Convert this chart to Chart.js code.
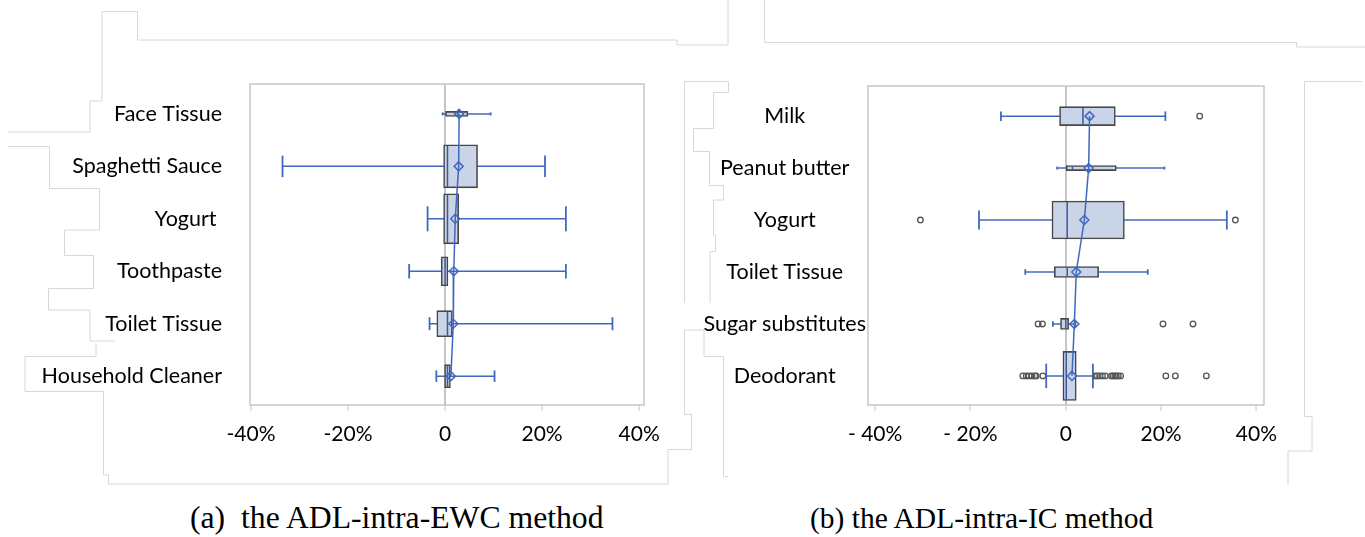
<!DOCTYPE html>
<html>
<head>
<meta charset="utf-8">
<script src="https://cdn.jsdelivr.net/npm/chart.js@4.4.1/dist/chart.umd.min.js"></script>
<style>
  html, body { margin: 0; padding: 0; background: #fff; }
  body { width: 1365px; height: 537px; position: relative; overflow: hidden; }
  svg.boxes { position: absolute; left: 0; top: 0; }
  canvas { position: absolute; top: 0; }
  #ewcChart { left: 0; }
  #icChart { left: 680px; }
  .caption { position: absolute; top: 500px; font-family: "Liberation Serif", "Times New Roman", serif;
             line-height: 36px; color: #000; white-space: pre; }
</style>
</head>
<body>
<!-- leftover text-box outlines from the original figure -->
<svg class="boxes" width="1365" height="537">
  <g fill="none" stroke="#d8d8d8" stroke-width="1">
    <polyline points="8,132 90,132 90,101 102,101 102,11.5 137.5,11.5 137.5,40 677,40 677,45 728,45 728,0"/>
    <polyline points="764.5,0 764.5,42.5 1296.5,42.5 1296.5,47 1365,47"/>
    <polyline points="8,146.5 49.5,146.5 49.5,188.5 99.5,188.5 99.5,230 64.5,230 64.5,255.5 93.5,255.5 93.5,288.5 48.5,288.5 48.5,310 90,310 90,341 115,341"/>
    <polyline points="96,343.5 96,356.5 25,356.5 25,391.5 103.5,391.5 103.5,475 108.5,475 108.5,484 668,484 668,449.5 691.5,449.5 691.5,414.5 684.5,414.5 684.5,330 704,330 704,356.5 723.5,356.5 723.5,476.5 728,476.5"/>
    <polyline points="684.5,303 684.5,81.5 728.5,81.5 728.5,92.5 713.5,92.5 713.5,128.5 693.5,128.5 693.5,151.5 709.5,151.5 709.5,185.5 723.5,185.5 723.5,200 713.5,200 713.5,235 715.5,235 715.5,251.5 710,251.5 710,303"/>
    <polyline points="1362,81.5 1304.5,81.5 1304.5,416.5 1312,416.5 1312,451 1288,451 1288,485"/>
  </g>
</svg>

<canvas id="ewcChart" width="680" height="470"></canvas>
<canvas id="icChart" width="685" height="470"></canvas>

<div class="caption" style="left:190px; font-size:31.7px">(a)  the ADL-intra-EWC method</div>
<div class="caption" style="left:810px; font-size:29.5px">(b) the ADL-intra-IC method</div>

<script>
// ---------- data (percent change) ----------
const xTicks = [-40, -20, 0, 20, 40];
const ewcTickLabels = ['-40%', '-20%', '0', '20%', '40%'];
const icTickLabels = ['- 40%', '- 20%', '0', '20%', '40%'];

// (a) ADL-intra-EWC
const ewcItems  = ['Face Tissue', 'Spaghetti Sauce', 'Yogurt ', 'Toothpaste', 'Toilet Tissue', 'Household Cleaner'];
const ewcLow    = [-0.5, -33.5, -3.6, -7.4, -3.2, -1.8];
const ewcQ1     = [0.1, -0.3, -0.3, -0.8, -1.7, -0.1];
const ewcMedian = [2.6, 0.5, 0.5, 0.0, 0.5, 0.5];
const ewcQ3     = [4.7, 6.7, 2.8, 0.6, 1.5, 1.1];
const ewcHigh   = [9.4, 20.6, 24.9, 24.9, 34.5, 10.2];
const ewcMean   = [2.9, 2.8, 2.1, 1.8, 1.7, 1.2];

// (b) ADL-intra-IC
const icItems  = ['Milk', 'Peanut butter', 'Yogurt', 'Toilet Tissue', 'Sugar substitutes', 'Deodorant'];
const icLow    = [-13.6, -1.8, -18.2, -8.5, -2.7, -4.1];
const icQ1     = [-1.3, 0.1, -2.9, -2.4, -1.1, -0.6];
const icMedian = [3.6, 1.4, 0.3, 0.3, 0.0, 0.1];
const icQ3     = [10.4, 10.6, 12.3, 6.9, 0.6, 2.2];
const icHigh   = [20.9, 20.7, 33.8, 17.2, 2.0, 5.7];
const icMean   = [5.0, 4.8, 3.9, 2.2, 1.8, 1.3];
const icOutlierX   = [28.1, -30.5, 35.6, -5.8, -4.9, 20.4, 26.7,
                      -9.0, -8.3, -7.7, -7.1, -6.5, -6.2, -4.8,
                      6.2, 6.6, 7.1, 7.7, 8.3, 9.6, 9.9, 10.3, 10.6, 11.0, 11.5,
                      21.0, 23.0, 29.5];
const icOutlierRow = [0, 2, 2, 4, 4, 4, 4,
                      5, 5, 5, 5, 5, 5, 5,
                      5, 5, 5, 5, 5, 5, 5, 5, 5, 5, 5,
                      5, 5, 5];

// ---------- styling ----------
const FONT = 'Lato, "Noto Sans", sans-serif';
const BLUE = '#4068c2';
const BOX_FILL = '#c9d4e7';
const BOX_EDGE = '#474747';
const MEDIAN = '#3a569c';
const GRID = '#c6c6c6';
// box thickness in px (proportional to group size in the original)
const ewcBoxPx = [5, 43, 50, 29, 26, 23];
const icBoxPx  = [19, 5, 38, 11, 11, 49];

const framePlugin = {
  id: 'frame',
  beforeDatasetsDraw(chart) {
    const { ctx, chartArea: a } = chart;
    ctx.save();
    ctx.strokeStyle = GRID;
    ctx.lineWidth = 1.5;
    ctx.strokeRect(a.left, a.top, a.right - a.left, a.bottom - a.top);
    ctx.restore();
  },
};

function boxPlot(canvasId, d) {
  const datasets = [];

  // whiskers with end caps
  d.items.forEach((_, i) => {
    datasets.push({
      type: 'line',
      data: [{ x: d.low[i], y: i }, { x: d.high[i], y: i }],
      borderColor: BLUE, borderWidth: 1.5,
      pointStyle: 'line', pointRotation: 90,
      pointRadius: Math.max(1.5, d.box[i] / 4),
      pointBorderColor: BLUE, pointBorderWidth: 1.8,
      order: 6,
    });
  });

  // boxes (Q1..Q3), one dataset each so thickness can differ
  d.items.forEach((_, i) => {
    datasets.push({
      type: 'bar', indexAxis: 'y', grouped: false,
      data: [{ x: [d.q1[i], d.q3[i]], y: i }],
      barThickness: d.box[i],
      backgroundColor: BOX_FILL, borderColor: BOX_EDGE, borderWidth: 1.6, borderSkipped: false,
      order: 5,
    });
  });

  // medians
  datasets.push({
    type: 'scatter',
    data: d.median.map((v, i) => ({ x: v, y: i })),
    pointStyle: 'line', pointRotation: 90,
    pointRadius: d.box.map(h => Math.max(1, h / 2 - 1)),
    pointBorderColor: MEDIAN, pointBorderWidth: 1.5,
    order: 4,
  });

  // outliers
  if (d.outX) {
    datasets.push({
      type: 'scatter',
      data: d.outX.map((v, k) => ({ x: v, y: d.outRow[k] })),
      pointStyle: 'circle', pointRadius: 2.8,
      pointBorderColor: '#555', pointBackgroundColor: 'rgba(0,0,0,0)', pointBorderWidth: 1.3,
      order: 3,
    });
  }

  // means joined by a line
  datasets.push({
    type: 'line',
    data: d.mean.map((v, i) => ({ x: v, y: i })),
    borderColor: BLUE, borderWidth: 1.5,
    pointStyle: 'rectRot', pointRadius: 4.5,
    pointBorderColor: BLUE, pointBorderWidth: 1.5, pointBackgroundColor: 'rgba(0,0,0,0)',
    order: 1,
  });

  return new Chart(document.getElementById(canvasId), {
    type: 'bar',
    data: { datasets },
    options: {
      responsive: false, animation: false, devicePixelRatio: 1,
      layout: { padding: d.padding },
      plugins: { legend: { display: false }, tooltip: { enabled: false } },
      scales: {
        x: {
          type: 'linear', min: d.xMin, max: d.xMax, offset: false,
          afterBuildTicks: s => { s.ticks = xTicks.map(v => ({ value: v })); },
          afterFit: s => { s.height = 65; },
          border: { display: false },
          grid: {
            offset: false,
            color: c => (c.tick && c.tick.value === 0) ? GRID : 'rgba(0,0,0,0)',
            lineWidth: 2,
            tickColor: GRID, tickLength: 6, tickWidth: 1,
          },
          ticks: {
            color: '#000', font: { family: FONT, size: 21 }, padding: 11,
            maxRotation: 0, autoSkip: false,
            callback: (v, i) => d.tickLabels[i],
          },
        },
        y: {
          type: 'linear', reverse: true, min: d.yMin, max: d.yMax, offset: false,
          afterBuildTicks: s => { s.ticks = d.items.map((_, i) => ({ value: i })); },
          afterFit: s => { s.width = d.axisWidth; },
          border: { display: false },
          grid: { display: false, drawTicks: false },
          ticks: {
            color: '#000', font: { family: FONT, size: 21.5 },
            padding: d.labelPad, crossAlign: d.crossAlign, autoSkip: false,
            callback: (v, i) => d.items[i],
          },
        },
      },
    },
    plugins: [framePlugin],
  });
}

boxPlot('ewcChart', {
  items: ewcItems, low: ewcLow, q1: ewcQ1, median: ewcMedian, q3: ewcQ3, high: ewcHigh, mean: ewcMean,
  box: ewcBoxPx, tickLabels: ewcTickLabels,
  xMin: -40.2, xMax: 41.0, yMin: -0.57, yMax: 5.55,
  padding: { top: 84, right: 36, bottom: 0, left: 0 },
  axisWidth: 250, labelPad: 28, crossAlign: 'near',
});

boxPlot('icChart', {
  items: icItems, low: icLow, q1: icQ1, median: icMedian, q3: icQ3, high: icHigh, mean: icMean,
  outX: icOutlierX, outRow: icOutlierRow,
  box: icBoxPx, tickLabels: icTickLabels,
  xMin: -41.5, xMax: 41.6, yMin: -0.58, yMax: 5.56,
  padding: { top: 86, right: 101, bottom: 0, left: 0 },
  axisWidth: 188, labelPad: 2, crossAlign: 'center',
});
</script>
</body>
</html>
